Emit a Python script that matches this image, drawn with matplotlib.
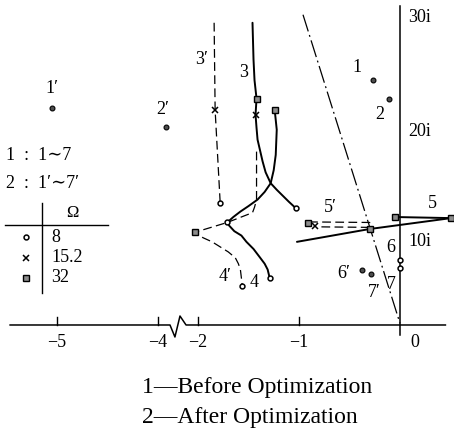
import numpy as np
import matplotlib
matplotlib.use('Agg')
import matplotlib.pyplot as plt

W, H = 454, 443

# real axis is broken between -4 and -2; imaginary spacing follows the 10i/20i/30i marks
re_knots = np.array([-8.0, -4.0, -2.0, 0.0, 2.0])
re_pos = np.array([-6.4, -2.4, -2.0, 0.0, 2.0])
im_knots = np.array([-20.0, 0.0, 10.0, 20.0, 30.0, 50.0])
im_pos = np.array([-168.0, 0.0, 84.0, 193.0, 308.0, 538.0])

def re_fwd(x): return np.interp(x, re_knots, re_pos)
def re_inv(x): return np.interp(x, re_pos, re_knots)
def im_fwd(y): return np.interp(y, im_knots, im_pos)
def im_inv(y): return np.interp(y, im_pos, im_knots)

# root loci before optimization (solid)
b3_re = [-1.46, -1.45, -1.44, -1.42, -1.43, -1.42, -1.41, -1.36, -1.33, -1.28, -1.22, -1.10, -1.03]
b3_im = [29.5, 26.3, 24.5, 22.9, 21.5, 20.35, 19.3, 17.3, 16.3, 15.3, 14.7, 13.6, 13.0]
b4_re = [-1.24, -1.22, -1.23, -1.25, -1.28, -1.34, -1.41, -1.50, -1.58, -1.65, -1.71,
         -1.69, -1.64, -1.57, -1.52, -1.45, -1.39, -1.34, -1.31, -1.29]
b4_im = [21.9, 20.2, 17.9, 16.5, 15.3, 14.5, 13.8, 13.2, 12.7, 12.2, 11.7,
         11.4, 10.9, 10.5, 9.9, 9.05, 8.1, 7.3, 6.6, 5.6]
b5_re = [-0.05, 0.505]
b5_im = [12.2, 12.1]
b56_re = [-1.02, -0.30, 0.505]
b56_im = [9.9, 11.1, 12.1]

# root loci after optimization (dashed)
a3_re = [-1.84, -1.83, -1.78]
a3_im = [29.5, 21.9, 13.5]
a4_re = [-1.42, -1.42, -1.44, -1.46, -1.71, -2.15, -1.95, -1.86, -1.78, -1.70, -1.63, -1.60, -1.58, -1.57, -1.56]
a4_im = [18.2, 13.8, 13.1, 12.6, 11.7, 10.8, 10.3, 9.9, 9.3, 8.7, 8.0, 7.3, 6.6, 5.6, 4.6]
a5_re = [-0.90, -0.30, -0.30, -0.82]
a5_im = [11.75, 11.7, 11.25, 11.3]

# damping line
dd_re = [-0.96, 0.0]
dd_im = [30.2, 0.2]

# roots at the three frequencies: 8 -> circle, 15.2 -> cross, 32 -> square
omega_labels = ['8', '15.2', '32']
pts8_re = [-1.03, -1.29, -1.78, -1.56, -1.71, 0.0, 0.0]
pts8_im = [13.0, 5.6, 13.5, 4.6, 11.7, 7.7, 6.8]
pts15_re = [-1.43, -1.83, -0.84]
pts15_im = [21.5, 21.9, 11.4]
pts32_re = [-1.42, -1.24, -2.15, -0.05, 0.505, -0.30, -0.91]
pts32_im = [22.9, 21.9, 10.8, 12.2, 12.1, 11.1, 11.65]

# isolated roots
iso_re = [-0.27, -0.11, -5.05, -3.6, -0.38, -0.29]
iso_im = [24.5, 22.9, 22.1, 20.4, 6.55, 6.07]

# branch labels
lab_txt = ['1', '2', '1\u2032', '2\u2032', '3\u2032', '3', '4\u2032', '4', '5', '5\u2032', '6', '7', '6\u2032', '7\u2032']
lab_re = [-0.43, -0.20, -5.05, -3.73, -1.96, -1.55, -1.73, -1.44, 0.32, -0.69, -0.09, -0.09, -0.56, -0.25]
lab_im = [25.6, 21.5, 23.8, 22.0, 26.3, 25.2, 5.8, 5.1, 13.4, 13.1, 9.2, 4.8, 6.1, 3.9]

xticks = [-5, -4, -2, -1]
yticks = [10, 20, 30]

plt.rcParams['font.family'] = ['Liberation Serif', 'DejaVu Serif']

fig = plt.figure(figsize=(W / 100, H / 100), dpi=100)
ax = fig.add_axes([0, 0, 1, 1])
ax.set_xscale('function', functions=(re_fwd, re_inv))
ax.set_yscale('function', functions=(im_fwd, im_inv))
ax.set_xlim(-5.56, 0.535)
ax.set_ylim(-14.05, 31.48)
ax.axis('off')

def px(x, y):
    return x / W, 1 - y / H

k = 'black'
# axes with the break
ax.plot([-5.46, -3.385, -3.14, -2.89, -2.59, 0.45], [0, 0, -1.43, 1.07, 0, 0], color=k, lw=1.1)
ax.plot([0, 0], [-1.2, 31.0], color=k, lw=1.1)
for t in xticks:
    ax.plot([t, t], [0, 0.9], color=k, lw=1.0)
    ax.text(t, -2.1, '\u2212%d' % abs(t), ha='center', va='center', fontsize=13)
ax.text(0.15, -2.1, '0', ha='center', va='center', fontsize=13)
for t, yy in zip(yticks, [241, 132, 17]):
    ax.text(*px(408, yy), '%di' % t, transform=ax.transAxes, ha='left', va='center', fontsize=13)

sol = dict(color=k, lw=1.4, solid_capstyle='round', solid_joinstyle='round')
dsh = dict(color=k, lw=0.9, dashes=(7, 3.5))
ax.plot(b3_re, b3_im, **sol)
ax.plot(b4_re, b4_im, **sol)
ax.plot(b5_re, b5_im, **sol)
ax.plot(b56_re, b56_im, **sol)
ax.plot(a3_re, a3_im, **dsh)
ax.plot(a4_re, a4_im, **dsh)
ax.plot(a5_re, a5_im, **dsh)
ax.plot(dd_re, dd_im, color=k, lw=0.9, dashes=(14, 3, 1.5, 3))

mk8 = dict(ls='none', marker='o', ms=3.5, mfc='white', mec=k, mew=1.1)
mk15 = dict(ls='none', marker='x', ms=5, mec=k, mew=1.1)
mk32 = dict(ls='none', marker='s', ms=4, mfc='0.55', mec=k, mew=1.0)
ax.plot(pts8_re, pts8_im, **mk8)
ax.plot(pts15_re, pts15_im, **mk15)
ax.plot(pts32_re, pts32_im, **mk32)
ax.plot(iso_re, iso_im, ls='none', marker='o', ms=3.5, mfc='0.3', mec=k, mew=0.8)

for s, x, y in zip(lab_txt, lab_re, lab_im):
    ax.text(x, y, s, ha='center', va='center', fontsize=13)

# legend block
ax.text(*px(6, 155), '1  :  1\u223c7', transform=ax.transAxes, ha='left', va='center', fontsize=13)
ax.text(*px(6, 183), '2  :  1\u2032\u223c7\u2032', transform=ax.transAxes, ha='left', va='center', fontsize=13)
ax.plot([px(5, 225)[0], px(108, 225)[0]], [px(5, 225)[1]] * 2, transform=ax.transAxes, color=k, lw=1.0)
ax.plot([px(42, 203)[0]] * 2, [px(42, 203)[1], px(42, 293)[1]], transform=ax.transAxes, color=k, lw=1.0)
ax.text(*px(72, 213), '\u03a9', transform=ax.transAxes, ha='center', va='center', fontsize=12)
for i, (s, m) in enumerate(zip(omega_labels, [mk8, mk15, mk32])):
    yy = 237 + 20.5 * i
    ax.plot(*[[v] for v in px(26, yy)], transform=ax.transAxes, **m)
    ax.text(*px(51, yy), s, transform=ax.transAxes, ha='left', va='center', fontsize=13)

# caption
ax.text(*px(142, 387), '1\u2014Before Optimization', transform=ax.transAxes, ha='left', va='center', fontsize=17)
ax.text(*px(142, 417), '2\u2014After Optimization', transform=ax.transAxes, ha='left', va='center', fontsize=17)

fig.savefig('out.png', dpi=100)
